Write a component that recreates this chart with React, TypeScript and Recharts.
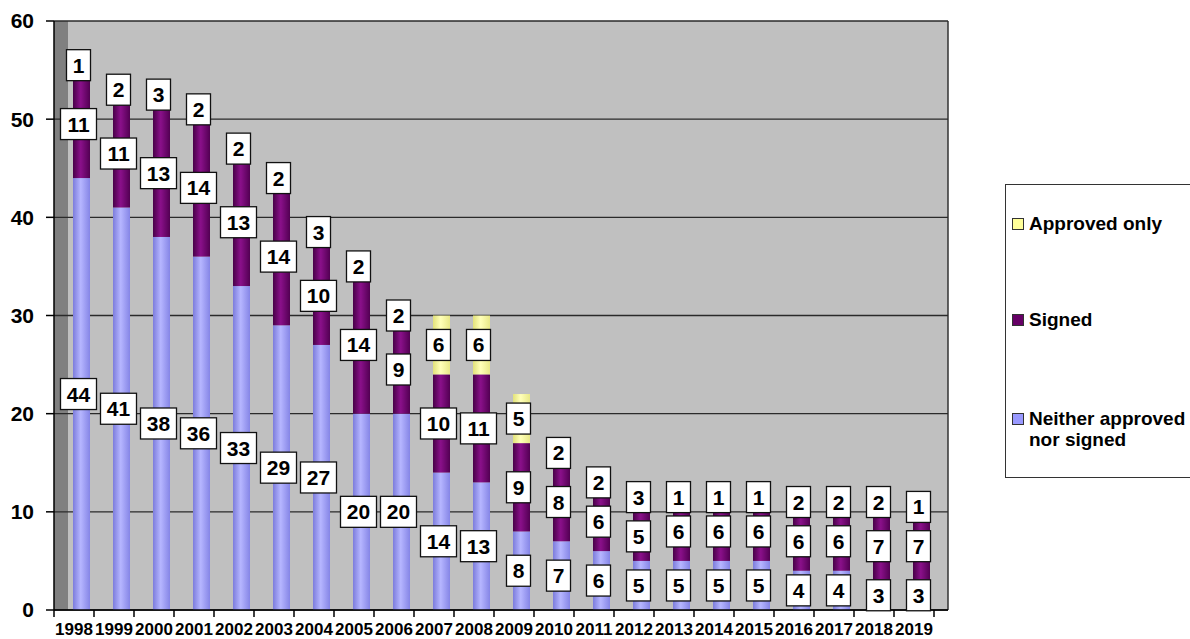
import React from 'react';
import { BarChart, Bar, XAxis, YAxis, CartesianGrid, LabelList } from 'recharts';

const years = ['1998','1999','2000','2001','2002','2003','2004','2005','2006','2007','2008','2009','2010','2011','2012','2013','2014','2015','2016','2017','2018','2019'];
const neither = [44,41,38,36,33,29,27,20,20,14,13,8,7,6,5,5,5,5,4,4,3,3];
const signed = [11,11,13,14,13,14,10,14,9,10,11,9,8,6,5,6,6,6,6,6,7,7];
const approved = [1,2,3,2,2,2,3,2,2,6,6,5,2,2,3,1,1,1,2,2,2,1];
const yTicks = [0,10,20,30,40,50,60];
const legendNames = ['Approved only', 'Signed', 'Neither approved nor signed'];

const data = years.map((year, i) => ({ year, neither: neither[i], signed: signed[i], approved: approved[i] }));

const W = 1190;
const H = 639;
const FONT = '"Liberation Sans", Arial, sans-serif';
const PLOT_LEFT = 54;
const PLOT_TOP = 21;
const X_AXIS_H = 29;
const PLOT_BOTTOM = H - X_AXIS_H;
const WALL_RIGHT = 948;
const DEPTH = 14;
const N = years.length;
const RIGHT_PAD = 14;
const BAND = (WALL_RIGHT - PLOT_LEFT - RIGHT_PAD) / N;
const BAR_SHIFT = 7;
const LABEL_SHIFT = 4;

const XTick = (props: any) => {
  const { x, index, payload } = props;
  const half = BAND / 2;
  return (
    <g>
      <line x1={x - half} x2={x - half} y1={PLOT_BOTTOM} y2={PLOT_BOTTOM + 7} stroke="#000" strokeWidth={1.5} />
      {index === N - 1 && (
        <line x1={x + half} x2={x + half} y1={PLOT_BOTTOM} y2={PLOT_BOTTOM + 7} stroke="#000" strokeWidth={1.5} />
      )}
      <text x={x} y={PLOT_BOTTOM + 25} textAnchor="middle" fontSize={17} fontWeight="bold" fill="#000" fontFamily={FONT}>
        {payload.value}
      </text>
    </g>
  );
};

const BoxLabel = (props: any) => {
  const { x, y, width, height, value } = props;
  const s = String(value);
  const bw = s.length > 1 ? 36 : 24;
  const bh = 31;
  const cx = x + width / 2 + LABEL_SHIFT;
  const cy = y + height / 2;
  return (
    <g>
      <rect x={cx - bw / 2} y={cy - bh / 2} width={bw} height={bh} fill="#fff" stroke="#111" strokeWidth={1.3} />
      <text x={cx} y={cy + 7.5} textAnchor="middle" fontSize={21} fontWeight="bold" fill="#000" fontFamily={FONT}>
        {s}
      </text>
    </g>
  );
};

const makeShape = (gid: string) => (props: any) => {
  const { x, y, width, height } = props;
  if (!height || height <= 0) return <g />;
  return <rect x={x + BAR_SHIFT} y={y} width={width} height={height} fill={`url(#${gid})`} />;
};

const legendItems = [
  { name: legendNames[0], color: '#ffff99' },
  { name: legendNames[1], color: '#660066' },
  { name: legendNames[2], color: '#9999ff' },
];

const Legendbox = () => {
  const tops = [39, 135, 234];
  return (
    <div
      style={{
        position: 'absolute',
        left: 1005,
        top: 184,
        width: 230,
        height: 294,
        border: '1.5px solid #333',
        background: '#fff',
        boxSizing: 'border-box',
        fontFamily: FONT,
        fontWeight: 'bold',
        fontSize: 19,
        color: '#000',
      }}
    >
      {legendItems.map((it, i) => (
        <div key={it.name}>
          <div
            style={{
              position: 'absolute',
              left: 6,
              top: tops[i] - 6,
              width: 10,
              height: 10,
              background: it.color,
              border: '1px solid #333',
            }}
          />
          <div style={{ position: 'absolute', left: 23, top: tops[i] - 11, width: 200, lineHeight: '21px' }}>
            {i === 2 ? (
              <>
                Neither approved
                <br />
                nor signed
              </>
            ) : (
              it.name
            )}
          </div>
        </div>
      ))}
    </div>
  );
};

export default function App() {
  return (
    <div style={{ position: 'absolute', left: 0, top: 0, width: W, height: H, background: '#fff', overflow: 'hidden' }}>
      <svg width={W} height={H} style={{ position: 'absolute', left: 0, top: 0 }}>
        <rect x={PLOT_LEFT} y={PLOT_TOP} width={DEPTH} height={PLOT_BOTTOM - PLOT_TOP} fill="#808080" />
        <rect x={PLOT_LEFT + DEPTH} y={PLOT_TOP} width={WALL_RIGHT - PLOT_LEFT - DEPTH} height={PLOT_BOTTOM - PLOT_TOP} fill="#c0c0c0" />
        <line x1={WALL_RIGHT} x2={WALL_RIGHT} y1={PLOT_TOP} y2={PLOT_BOTTOM} stroke="#333" strokeWidth={1.5} />
      </svg>
      <div style={{ position: 'absolute', left: 0, top: 0 }}>
        <BarChart
          width={W}
          height={H}
          data={data}
          margin={{ top: PLOT_TOP, right: W - WALL_RIGHT, bottom: 0, left: 0 }}
          barCategoryGap={0}
        >
          <defs>
            <linearGradient id="gBlue" x1="0" y1="0" x2="1" y2="0">
              <stop offset="0%" stopColor="#7c7cdc" />
              <stop offset="45%" stopColor="#b6b6ff" />
              <stop offset="100%" stopColor="#8585e6" />
            </linearGradient>
            <linearGradient id="gPurple" x1="0" y1="0" x2="1" y2="0">
              <stop offset="0%" stopColor="#480048" />
              <stop offset="45%" stopColor="#8a108a" />
              <stop offset="100%" stopColor="#520052" />
            </linearGradient>
            <linearGradient id="gYellow" x1="0" y1="0" x2="1" y2="0">
              <stop offset="0%" stopColor="#e2e27a" />
              <stop offset="45%" stopColor="#ffffb8" />
              <stop offset="100%" stopColor="#e8e888" />
            </linearGradient>
          </defs>
          <CartesianGrid vertical={false} stroke="#2a2a2a" strokeWidth={1.3} />
          <XAxis
            dataKey="year"
            height={X_AXIS_H}
            interval={0}
            padding={{ left: 0, right: RIGHT_PAD }}
            tickLine={false}
            axisLine={{ stroke: '#000', strokeWidth: 1.5 }}
            tick={<XTick />}
          />
          <YAxis
            width={PLOT_LEFT}
            domain={[0, 60]}
            ticks={yTicks}
            interval={0}
            tickSize={8}
            tickMargin={12}
            axisLine={{ stroke: '#000', strokeWidth: 1.5 }}
            tickLine={{ stroke: '#000', strokeWidth: 1.5 }}
            tick={{ fontSize: 21, fontWeight: 'bold', fill: '#000', fontFamily: FONT }}
          />
          <Bar dataKey="neither" stackId="a" barSize={17} isAnimationActive={false} shape={makeShape('gBlue')}>
            <LabelList dataKey="neither" content={<BoxLabel />} />
          </Bar>
          <Bar dataKey="signed" stackId="a" barSize={17} isAnimationActive={false} shape={makeShape('gPurple')}>
            <LabelList dataKey="signed" content={<BoxLabel />} />
          </Bar>
          <Bar dataKey="approved" stackId="a" barSize={17} isAnimationActive={false} shape={makeShape('gYellow')}>
            <LabelList dataKey="approved" content={<BoxLabel />} />
          </Bar>
        </BarChart>
      </div>
      <Legendbox />
    </div>
  );
}
